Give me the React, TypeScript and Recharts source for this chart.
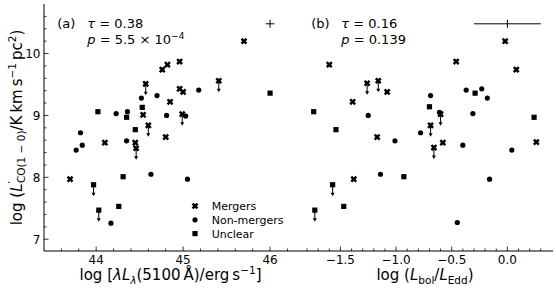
import React from 'react';
import { ScatterChart, Scatter, XAxis, YAxis, ErrorBar, Legend } from 'recharts';

const FONT = '"DejaVu Sans", sans-serif';
const INK = '#000';

type Pt = { x: number; y: number; ul?: boolean };

// panel (a): log L5100 vs log L'CO
const mergersA: Pt[] = [
  { x: 45.7, y: 10.2 }, { x: 44.76, y: 9.74 }, { x: 44.82, y: 9.82 }, { x: 44.96, y: 9.87 },
  { x: 44.57, y: 9.51, ul: true }, { x: 45.41, y: 9.56, ul: true }, { x: 44.96, y: 9.43 },
  { x: 45.0, y: 9.38 }, { x: 44.85, y: 9.22 }, { x: 44.54, y: 9.01 }, { x: 44.99, y: 9.02, ul: true },
  { x: 44.6, y: 8.84, ul: true }, { x: 44.8, y: 8.65 }, { x: 44.1, y: 8.56 }, { x: 44.45, y: 8.56 },
  { x: 44.46, y: 8.47, ul: true }, { x: 43.7, y: 7.97 },
];
const nonMergersA: Pt[] = [
  { x: 45.18, y: 9.41 }, { x: 44.52, y: 9.28 }, { x: 44.7, y: 9.32 }, { x: 44.23, y: 9.03 },
  { x: 44.36, y: 9.06 }, { x: 44.81, y: 9.0 }, { x: 45.03, y: 8.99 }, { x: 43.82, y: 8.72 },
  { x: 43.77, y: 8.44 }, { x: 43.84, y: 8.52 }, { x: 44.35, y: 8.59 }, { x: 44.63, y: 8.05 },
  { x: 45.05, y: 7.97 }, { x: 44.17, y: 7.26 },
];
const unclearA: Pt[] = [
  { x: 46.0, y: 9.36 }, { x: 44.02, y: 9.06 }, { x: 44.35, y: 8.97 }, { x: 44.53, y: 9.13 },
  { x: 44.45, y: 8.77 }, { x: 43.97, y: 7.88, ul: true }, { x: 44.31, y: 8.01 },
  { x: 44.03, y: 7.47, ul: true }, { x: 44.26, y: 7.53 },
];
const errA = [{ x: 46.0, y: 10.48, ex: 0.05, ey: 0.065 }];

// panel (b): Eddington ratio
const mergersB: Pt[] = [
  { x: -0.02, y: 10.2 }, { x: -1.6, y: 9.82 }, { x: -0.46, y: 9.87 }, { x: 0.08, y: 9.74 },
  { x: -1.26, y: 9.52, ul: true }, { x: -1.16, y: 9.56, ul: true }, { x: -1.08, y: 9.38 },
  { x: -1.39, y: 9.22 }, { x: -0.6, y: 9.02, ul: true }, { x: -0.69, y: 8.84, ul: true },
  { x: -1.17, y: 8.65 }, { x: -0.58, y: 8.56 }, { x: -0.66, y: 8.48, ul: true }, { x: 0.26, y: 8.57 },
  { x: -1.38, y: 7.97 },
];
const nonMergersB: Pt[] = [
  { x: -0.69, y: 9.32 }, { x: -0.37, y: 9.41 }, { x: -0.23, y: 9.43 }, { x: -0.18, y: 9.28 },
  { x: -1.25, y: 9.0 }, { x: -0.61, y: 9.05 }, { x: -0.31, y: 9.03 }, { x: -0.78, y: 8.72 },
  { x: -1.01, y: 8.59 }, { x: -0.4, y: 8.52 }, { x: 0.04, y: 8.44 }, { x: -1.14, y: 8.05 },
  { x: -0.16, y: 7.97 }, { x: -0.45, y: 7.27 },
];
const unclearB: Pt[] = [
  { x: -0.29, y: 9.36 }, { x: -1.74, y: 9.06 }, { x: -0.7, y: 9.14 }, { x: 0.24, y: 8.97 },
  { x: -1.54, y: 8.77 }, { x: -0.93, y: 8.01 }, { x: -1.57, y: 7.88, ul: true },
  { x: -1.47, y: 7.53 }, { x: -1.73, y: 7.47, ul: true },
];
const errB = [{ x: 0.0, y: 10.48, ex: 0.3, ey: 0.065 }];

// ticks
const yTicks = [7, 7.2, 7.4, 7.6, 7.8, 8, 8.2, 8.4, 8.6, 8.8, 9, 9.2, 9.4, 9.6, 9.8, 10, 10.2, 10.4, 10.6];
const yMajor = [7, 8, 9, 10];
const xTicksA = [43.6, 43.8, 44, 44.2, 44.4, 44.6, 44.8, 45, 45.2, 45.4, 45.6, 45.8, 46, 46.2];
const xMajorA = [44, 45, 46];
const xTicksB = [-1.8, -1.7, -1.6, -1.5, -1.4, -1.3, -1.2, -1.1, -1, -0.9, -0.8, -0.7, -0.6, -0.5, -0.4, -0.3, -0.2, -0.1, 0, 0.1, 0.2, 0.3];
const xMajorB = [-1.5, -1, -0.5, 0];

const Y_DOMAIN: [number, number] = [6.81, 10.8];
const XA_DOMAIN: [number, number] = [43.4, 46.31];
const XB_DOMAIN: [number, number] = [-1.89, 0.41];

const MAJOR_LEN = 4.5;
const MINOR_LEN = 2.5;

const isMajor = (v: number, majors: number[]) => majors.some((m) => Math.abs(m - v) < 1e-6);
const fmtPlain = (v: number) => String(v);
const fmtMinus = (v: number) => v.toFixed(1).replace('-', '\u2212');

function AxisTick(props: any) {
  const { x, y, payload, side, majors, fmt } = props;
  const v = payload.value;
  const major = isMajor(v, majors);
  const len = major ? MAJOR_LEN : MINOR_LEN;
  const ln = { stroke: INK, strokeWidth: 0.8 };
  if (side === 'bottom') {
    return (
      <g>
        <line x1={x} x2={x} y1={y} y2={y - len} {...ln} />
        {major && fmt && (
          <text x={x} y={y + 12.5} textAnchor="middle" fontSize={12} fontFamily={FONT} fill={INK}>{fmt(v)}</text>
        )}
      </g>
    );
  }
  if (side === 'left') {
    return (
      <g>
        <line x1={x} x2={x + len} y1={y} y2={y} {...ln} />
        {major && fmt && (
          <text x={x - 3.5} y={y + 4.3} textAnchor="end" fontSize={12} fontFamily={FONT} fill={INK}>{fmt(v)}</text>
        )}
      </g>
    );
  }
  return (
    <g>
      <line x1={x} x2={x - len} y1={y} y2={y} {...ln} />
    </g>
  );
}

function Marker({ cx, cy, kind, ul }: { cx: number; cy: number; kind: string; ul?: boolean }) {
  let body;
  if (kind === 'merger') {
    const s = 3.5;
    const w = 1.25;
    const pts = [
      [-w, -s], [w, -s], [w, -w], [s, -w], [s, w], [w, w], [w, s], [-w, s], [-w, w], [-s, w], [-s, -w], [-w, -w],
    ].map((p) => p.join(',')).join(' ');
    body = <polygon points={pts} transform={`translate(${cx},${cy}) rotate(45)`} fill={INK} />;
  } else if (kind === 'nonmerger') {
    body = <circle cx={cx} cy={cy} r={2.6} fill={INK} />;
  } else {
    body = <rect x={cx - 2.6} y={cy - 2.6} width={5.2} height={5.2} fill={INK} />;
  }
  return (
    <g>
      {ul && (
        <g>
          <line x1={cx} x2={cx} y1={cy} y2={cy + 9} stroke={INK} strokeWidth={1} />
          <polygon points={`${cx - 2},${cy + 8} ${cx + 2},${cy + 8} ${cx},${cy + 11.5}`} fill={INK} />
        </g>
      )}
      {body}
    </g>
  );
}

const shapeFor = (kind: string) => (p: any) => <Marker cx={p.cx} cy={p.cy} kind={kind} ul={p.payload?.ul} />;

const legendKinds: Record<string, string> = { Mergers: 'merger', 'Non-mergers': 'nonmerger', Unclear: 'unclear' };

function LegendBox(props: any) {
  const items = (props.payload || []).filter((e: any) => legendKinds[e.value]);
  return (
    <svg width={100} height={44} style={{ display: 'block', overflow: 'visible' }}>
      {items.map((e: any, i: number) => {
        const cy = 8 + i * 13.8;
        return (
          <g key={e.value}>
            <Marker cx={6} cy={cy} kind={legendKinds[e.value]} />
            <text x={22.7} y={cy + 4} fontSize={11} fontFamily={FONT} fill={INK}>{e.value}</text>
          </g>
        );
      })}
    </svg>
  );
}

const SUB = 10.5;

function YLabel(props: any) {
  const vb = props.viewBox ?? { x: 0, y: 4, width: 44, height: 247 };
  const cx = vb.x + 21.5;
  const cy = vb.y + vb.height / 2;
  return (
    <text transform={`translate(${cx},${cy}) rotate(-90)`} textAnchor="middle" fontSize={15} fontFamily={FONT} fill={INK}>
      log (<tspan fontStyle="italic">L</tspan>
      <tspan fontSize={SUB} dy={-6}>′</tspan>
      <tspan fontSize={SUB} dx={-2} dy={9.5}>CO(1 − 0)</tspan>
      <tspan dy={-3.5}>/K{'\u2009'}km{'\u2009'}s</tspan>
      <tspan fontSize={SUB} dy={-6}>−1</tspan>
      <tspan dy={6}>{'\u2009'}pc</tspan>
      <tspan fontSize={SUB} dy={-6}>2</tspan>
      <tspan dy={6}>)</tspan>
    </text>
  );
}

function XLabelA(props: any) {
  const vb = props.viewBox ?? { x: 44, y: 251, width: 253, height: 40 };
  return (
    <text x={vb.x + vb.width / 2} y={vb.y + 29} textAnchor="middle" fontSize={15} fontFamily={FONT} fill={INK}>
      log [<tspan fontStyle="italic">λL</tspan>
      <tspan fontSize={SUB} fontStyle="italic" dy={3.5}>λ</tspan>
      <tspan dy={-3.5}>(5100{'\u2009'}Å)/erg{'\u2009'}s</tspan>
      <tspan fontSize={SUB} dy={-6}>−1</tspan>
      <tspan dy={6}>]</tspan>
    </text>
  );
}

function XLabelB(props: any) {
  const vb = props.viewBox ?? { x: 297, y: 251, width: 256, height: 40 };
  return (
    <text x={vb.x + vb.width / 2} y={vb.y + 29} textAnchor="middle" fontSize={15} fontFamily={FONT} fill={INK}>
      log (<tspan fontStyle="italic">L</tspan>
      <tspan fontSize={SUB} dy={3.5}>bol</tspan>
      <tspan dy={-3.5}>/</tspan>
      <tspan fontStyle="italic">L</tspan>
      <tspan fontSize={SUB} dy={3.5}>Edd</tspan>
      <tspan dy={-3.5}>)</tspan>
    </text>
  );
}

const frame = { stroke: INK, strokeWidth: 1 };

function Panel(props: {
  width: number;
  rightMargin: number;
  leftAxisWidth: number;
  showYLabels: boolean;
  xDomain: [number, number];
  xTicks: number[];
  xMajor: number[];
  xFmt: (v: number) => string;
  xLabel: any;
  mergers: Pt[];
  nonMergers: Pt[];
  unclear: Pt[];
  err: any[];
  legend: boolean;
}) {
  const p = props;
  return (
    <ScatterChart width={p.width} height={291} margin={{ top: 4, right: p.rightMargin, bottom: 0, left: 0 }}>
      <XAxis
        type="number"
        dataKey="x"
        domain={p.xDomain}
        allowDataOverflow
        ticks={p.xTicks}
        interval={0}
        tickSize={0}
        tickMargin={0}
        tickLine={false}
        axisLine={frame}
        height={40}
        tick={(t: any) => <AxisTick {...t} side="bottom" majors={p.xMajor} fmt={p.xFmt} />}
        label={p.xLabel}
      />
      <XAxis
        xAxisId="top"
        orientation="top"
        type="number"
        dataKey="x"
        domain={p.xDomain}
        allowDataOverflow
        height={0}
        tick={false}
        tickLine={false}
        axisLine={frame}
      />
      <YAxis
        type="number"
        dataKey="y"
        domain={Y_DOMAIN}
        allowDataOverflow
        ticks={yTicks}
        interval={0}
        tickSize={0}
        tickMargin={0}
        tickLine={false}
        axisLine={frame}
        width={p.leftAxisWidth}
        tick={(t: any) => <AxisTick {...t} side="left" majors={yMajor} fmt={p.showYLabels ? fmtPlain : null} />}
        label={p.showYLabels ? YLabel : undefined}
      />
      <YAxis
        yAxisId="right"
        orientation="right"
        type="number"
        dataKey="y"
        domain={Y_DOMAIN}
        allowDataOverflow
        ticks={yTicks}
        interval={0}
        tickSize={0}
        tickMargin={0}
        tickLine={false}
        axisLine={frame}
        width={0}
        tick={(t: any) => <AxisTick {...t} side="right" majors={yMajor} />}
      />
      <Scatter name="Mergers" data={p.mergers} fill={INK} shape={shapeFor('merger')} isAnimationActive={false} />
      <Scatter name="Non-mergers" data={p.nonMergers} fill={INK} shape={shapeFor('nonmerger')} isAnimationActive={false} />
      <Scatter name="Unclear" data={p.unclear} fill={INK} shape={shapeFor('unclear')} isAnimationActive={false} />
      {/* representative error bar; bound to the top/right axes (same domains) so those frame axes render */}
      <Scatter
        name="err"
        data={p.err}
        xAxisId="top"
        yAxisId="right"
        legendType="none"
        shape={() => <g />}
        isAnimationActive={false}
      >
        <ErrorBar dataKey="ex" direction="x" width={0} stroke={INK} strokeWidth={1} isAnimationActive={false} />
        <ErrorBar dataKey="ey" direction="y" width={0} stroke={INK} strokeWidth={1} isAnimationActive={false} />
      </Scatter>
      {p.legend && (
        <Legend
          layout="vertical"
          align="center"
          verticalAlign="middle"
          content={LegendBox}
          wrapperStyle={{ left: 189, top: 198, width: 100, height: 44 }}
        />
      )}
    </ScatterChart>
  );
}

export default function App() {
  const txt = { fontSize: 13, fontFamily: FONT, fill: INK };
  return (
    <div style={{ position: 'absolute', left: 0, top: 0, width: 556, height: 291, background: '#fff' }}>
      <div style={{ position: 'absolute', left: 0, top: 0 }}>
        <Panel
          width={298}
          rightMargin={1}
          leftAxisWidth={44}
          showYLabels
          xDomain={XA_DOMAIN}
          xTicks={xTicksA}
          xMajor={xMajorA}
          xFmt={fmtPlain}
          xLabel={XLabelA}
          mergers={mergersA}
          nonMergers={nonMergersA}
          unclear={unclearA}
          err={errA}
          legend
        />
      </div>
      <div style={{ position: 'absolute', left: 297, top: 0 }}>
        <Panel
          width={259}
          rightMargin={3}
          leftAxisWidth={0}
          showYLabels={false}
          xDomain={XB_DOMAIN}
          xTicks={xTicksB}
          xMajor={xMajorB}
          xFmt={fmtMinus}
          xLabel={XLabelB}
          mergers={mergersB}
          nonMergers={nonMergersB}
          unclear={unclearB}
          err={errB}
          legend={false}
        />
      </div>
      <svg width={556} height={291} style={{ position: 'absolute', left: 0, top: 0, pointerEvents: 'none' }}>
        <text x={57.3} y={27.7} {...txt}>(a)</text>
        <text x={87.3} y={27.7} {...txt}><tspan fontStyle="italic">τ</tspan> = 0.38</text>
        <text x={87.3} y={44.4} {...txt}>
          <tspan fontStyle="italic">p</tspan> = 5.5 × 10<tspan fontSize={9} dy={-5}>−4</tspan>
        </text>
        <text x={311.3} y={27.7} {...txt}>(b)</text>
        <text x={341.3} y={27.7} {...txt}><tspan fontStyle="italic">τ</tspan> = 0.16</text>
        <text x={341.3} y={44.4} {...txt}><tspan fontStyle="italic">p</tspan> = 0.139</text>
      </svg>
    </div>
  );
}
